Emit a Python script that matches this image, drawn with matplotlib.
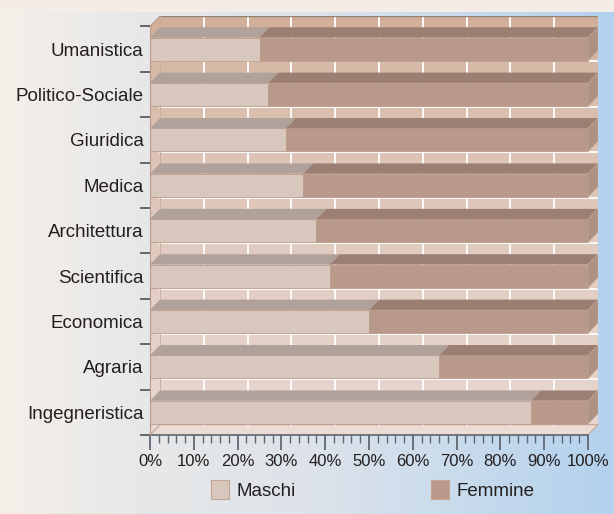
import numpy as np
import matplotlib.pyplot as plt
from matplotlib.patches import Polygon, Rectangle
from matplotlib.colors import to_rgb

plt.rcParams['font.family'] = ['Liberation Sans', 'DejaVu Sans']

# Percentuale di maschi per area disciplinare (le femmine completano al 100%)
aree = ['Umanistica', 'Politico-Sociale', 'Giuridica', 'Medica', 'Architettura',
        'Scientifica', 'Economica', 'Agraria', 'Ingegneristica']
maschi = [25, 27, 31, 35, 38, 41, 50, 66, 87]
femmine = [100 - m for m in maschi]
serie = ['Maschi', 'Femmine']
xtick_vals = list(range(0, 101, 10))
xtick_labels = [f'{v}%' for v in xtick_vals]

W, H = 614, 514
fig = plt.figure(figsize=(W / 100, H / 100), dpi=100)

# --- background: beige strip on top, beige -> grey -> light blue below
bg = fig.add_axes([0, 0, 1, 1], zorder=-10)
bg.axis('off')
stops_x = [0, 0.22, 0.5, 0.75, 1.0]
stops_c = [to_rgb(c) for c in ['#f4efe9', '#e8e8e8', '#dde3ea', '#c9dbec', '#b3d1ee']]
xs = np.linspace(0, 1, W)
row = np.stack([np.interp(xs, stops_x, [c[k] for c in stops_c]) for k in range(3)], axis=-1)
img = np.repeat(row[None, :, :], H, axis=0)
img[:12, :, :] = to_rgb('#f4ede7')
bg.imshow(img, extent=(0, 1, 0, 1), aspect='auto')
bg.set_xlim(0, 1)
bg.set_ylim(0, 1)

# --- main axes (front plane 0..100 %, room on the right/top for depth)
px_x = 438 / 100          # pixels per percent
px_y = 45.4               # pixels per category
dx = 10 / px_x            # depth offset in data units
dy = 10.3 / px_y
n = len(aree)
ax = fig.add_axes([150 / W, (H - 435) / H, 448 / W, (n + dy) * px_y / H])
ax.set_xlim(0, 100 + dx)
ax.set_ylim(-0.5, n - 0.5 + dy)
ax.patch.set_alpha(0)

ypos = np.arange(n)[::-1]   # Umanistica at the top
top = n - 0.5

# walls: back wall + left wall + floor, with a vertical gradient
shell = Polygon([(0, -0.5), (100, -0.5), (100 + dx, -0.5 + dy), (100 + dx, top + dy),
                 (dx, top + dy), (0, top)], closed=True, facecolor='none', edgecolor='none')
ax.add_patch(shell)
t = np.linspace(0, 1, 256) ** 0.55
c_top, c_bot = np.array(to_rgb('#cfab94')), np.array(to_rgb('#e8d8d1'))
grad = (c_top[None, :] * (1 - t[:, None]) + c_bot[None, :] * t[:, None])[:, None, :]
wall = ax.imshow(grad, extent=(0, 100 + dx, -0.5, top + dy), aspect='auto',
                 origin='upper', zorder=0)
wall.set_clip_path(shell)

# floor slightly lighter
ax.add_patch(Polygon([(0, -0.5), (100, -0.5), (100 + dx, -0.5 + dy), (dx, -0.5 + dy)],
                     closed=True, facecolor='#eddcd3', edgecolor='#c4a593', lw=0.8, zorder=1))

# white grid on the back wall
for v in xtick_vals[1:-1]:
    ax.plot([v + dx, v + dx], [-0.5 + dy, top + dy], color='white', lw=1.3, zorder=1)
for b in np.arange(0.5, n - 1, 1.0):
    ax.plot([dx, 100 + dx], [b + dy, b + dy], color='white', lw=1.3, zorder=1)

# wall edges
ax.plot([dx, 100 + dx], [top + dy, top + dy], color='#8f8078', lw=0.9, zorder=1)
ax.plot([0, dx], [top, top + dy], color='#b8998a', lw=0.8, zorder=1)
ax.plot([100 + dx, 100 + dx], [-0.5 + dy, top + dy], color='#c4a593', lw=0.8, zorder=1)
ax.plot([dx, dx], [-0.5 + dy, top + dy], color='#c8ab9b', lw=0.6, zorder=1)

# --- 3D bars
h = 0.51
col_front = ['#d8c7bd', '#b99989']
col_top = ['#b0a29b', '#9b7f72']
col_end = '#ad9183'
edge = '#bd9d8c'

ax.barh(ypos, maschi, left=0, height=h, color=col_front[0], edgecolor=edge,
        lw=0.6, zorder=3, label=serie[0])
ax.barh(ypos, femmine, left=maschi, height=h, color=col_front[1], edgecolor=edge,
        lw=0.6, zorder=3, label=serie[1])

for y, m in zip(ypos, maschi):
    yt = y + h / 2
    yb = y - h / 2
    ax.add_patch(Polygon([(0, yt), (m, yt), (m + dx, yt + dy), (dx, yt + dy)],
                         closed=True, facecolor=col_top[0], edgecolor='none', zorder=3))
    ax.add_patch(Polygon([(m, yt), (100, yt), (100 + dx, yt + dy), (m + dx, yt + dy)],
                         closed=True, facecolor=col_top[1], edgecolor='none', zorder=3))
    ax.add_patch(Polygon([(100, yb), (100, yt), (100 + dx, yt + dy), (100 + dx, yb + dy)],
                         closed=True, facecolor=col_end, edgecolor='#c4a593', lw=0.5, zorder=3))

# --- axes, ticks, labels
for s in ['top', 'right']:
    ax.spines[s].set_visible(False)
ax.spines['left'].set_bounds(-0.5, top)
ax.spines['left'].set_color('#b8998a')
ax.spines['left'].set_zorder(4)
ax.spines['bottom'].set_bounds(0, 100)
ax.spines['bottom'].set_color('#5f6771')
ax.spines['bottom'].set_linewidth(1.2)

ax.set_xticks(xtick_vals)
ax.set_xticklabels(xtick_labels, fontsize=12, color='#231f20')
ax.set_xticks(np.arange(0, 101, 2), minor=True)
ax.tick_params(axis='x', which='major', direction='out', length=11, width=1.3,
               color='#5f6771', pad=3)
ax.tick_params(axis='x', which='minor', direction='out', length=6, width=1.0,
               color='#5f6771')

ax.set_yticks(ypos)
ax.set_yticklabels(aree, fontsize=13.5, color='#231f20')
ax.set_yticks(np.arange(-0.5, n, 1.0), minor=True)
ax.tick_params(axis='y', which='major', length=0, pad=4.5)
ax.tick_params(axis='y', which='minor', direction='out', length=7, width=1.2,
               color='#4a4f55')

# --- legend
legend_items = [(211, 237, col_front[0]), (431, 457, col_front[1])]
for (x_box, x_txt, c), name in zip(legend_items, serie):
    fig.patches.append(Rectangle((x_box / W, (H - 499) / H), 18 / W, 19 / H,
                                 transform=fig.transFigure, facecolor=c,
                                 edgecolor='#c4a593', lw=0.8))
    fig.text(x_txt / W, (H - 491) / H, name, fontsize=13.5, color='#231f20',
             va='center', ha='left')

fig.savefig('out.png', dpi=100)
